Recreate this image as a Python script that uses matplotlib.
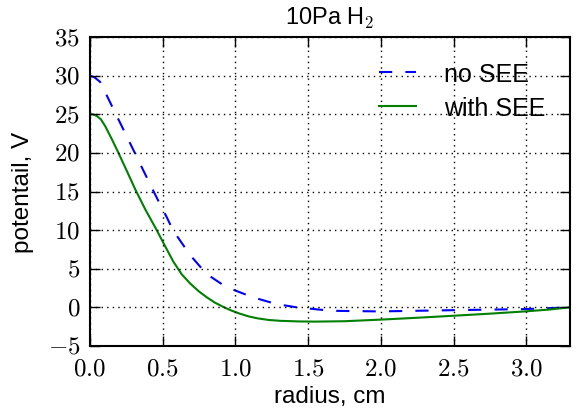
import matplotlib
matplotlib.use("Agg")
import matplotlib.pyplot as plt
from matplotlib.ticker import FuncFormatter

plt.style.use("classic")
plt.rcParams['font.family'] = ['Liberation Sans', 'DejaVu Sans']
plt.rcParams['mathtext.fontset'] = 'cm'

# radius (cm) and potential (V)
r_noSEE = [0.0, 0.03, 0.07, 0.14, 0.28, 0.43, 0.49, 0.53, 0.57, 0.69, 0.80, 0.92, 1.0,
           1.12, 1.28, 1.42, 1.66, 1.99, 2.49, 2.99, 3.3]
v_noSEE = [30.0, 29.8, 29.2, 26.5, 21.1, 15.3, 13.05, 11.6, 10.0, 6.74, 4.35, 2.83, 2.17,
           1.3, 0.43, 0.0, -0.45, -0.53, -0.37, -0.23, 0.0]

r_SEE = [0.0, 0.02, 0.046, 0.075, 0.104, 0.15, 0.196, 0.254, 0.311, 0.38, 0.459, 0.52, 0.574,
         0.63, 0.688, 0.75, 0.803, 0.86, 0.917, 0.97, 1.03, 1.09, 1.15, 1.23, 1.31, 1.44, 1.55,
         1.75, 1.99, 2.25, 2.49, 2.75, 2.99, 3.15, 3.3]
v_SEE = [25.0, 25.0, 24.8, 24.35, 23.5, 21.8, 20.0, 17.65, 15.3, 12.7, 10.0, 7.8, 5.9,
         4.3, 3.1, 2.05, 1.3, 0.6, 0.05, -0.4, -0.82, -1.17, -1.42, -1.64, -1.75, -1.83, -1.85,
         -1.8, -1.6, -1.35, -1.1, -0.82, -0.53, -0.3, 0.0]

fig, ax = plt.subplots(figsize=(5.84, 4.14), dpi=100)
fig.subplots_adjust(left=0.154, right=0.976, top=0.908, bottom=0.162)

ax.plot(r_noSEE, v_noSEE, color='b', linestyle='--', dashes=(9.5, 9.5), lw=1.5, label='no SEE')
ax.plot(r_SEE, v_SEE, color='g', linestyle='-', lw=1.5, label='with SEE')

ax.set_xlim(0, 3.3)
ax.set_ylim(-5, 35)
ax.set_xticks([0, 0.5, 1.0, 1.5, 2.0, 2.5, 3.0])
ax.set_yticks(range(-5, 36, 5))
ax.xaxis.set_major_formatter(FuncFormatter(lambda v, p: r'$%.1f$' % v))
ax.yaxis.set_major_formatter(FuncFormatter(lambda v, p: r'$%d$' % v))
ax.tick_params(labelsize=18, width=1, length=7)
ax.tick_params(axis='x', pad=7)
ax.tick_params(axis='y', pad=7)
ax.grid(True, color='k', linestyle=':', lw=1)
for s in ax.spines.values():
    s.set_linewidth(1.5)

ax.set_xlabel('radius, cm', fontsize=17.5, labelpad=4)
ax.set_ylabel('potentail, V', fontsize=17.5, labelpad=10)
ax.set_title(r'10Pa H$_2$', fontsize=17, y=1.02)
leg = ax.legend(loc='upper right', frameon=False, fontsize=18, numpoints=1,
                handlelength=1.5, handletextpad=1.1, labelspacing=0.4, borderaxespad=0.6)

fig.savefig('out.png', dpi=100)
